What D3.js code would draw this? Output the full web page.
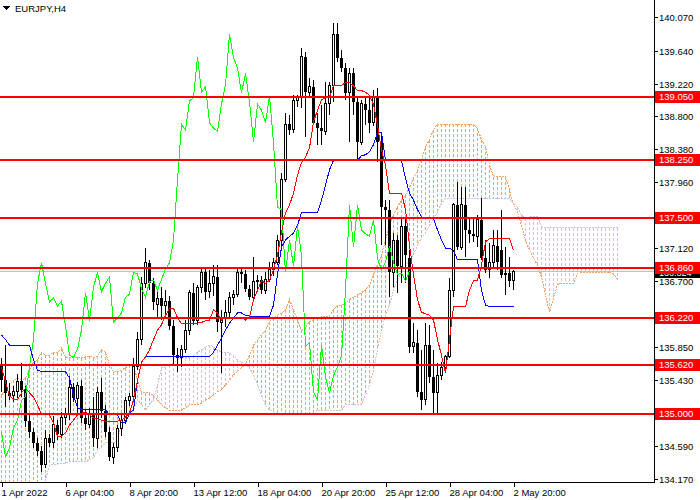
<!DOCTYPE html>
<html><head><meta charset="utf-8">
<script src="https://cdn.jsdelivr.net/npm/d3@7"></script>
<style>html,body{margin:0;padding:0;background:#fff;}svg{display:block;}text{font-family:"Liberation Sans",Arial,sans-serif;}</style>
</head><body><svg id="c" width="700" height="500" shape-rendering="crispEdges"></svg>
<script>
const title = "EURJPY,H4";
const open = [135.63,135.43,135.27,135.23,135.29,135.42,135.31,134.91,134.77,134.63,
134.53,134.35,134.69,134.63,134.86,134.74,134.96,135.01,135.34,135.20,
135.36,134.95,134.87,134.99,134.69,135.28,135.04,134.77,134.45,134.57,
134.82,134.92,135.17,135.22,135.61,135.95,136.67,136.93,136.67,136.40,
136.48,136.38,136.44,136.12,135.75,135.72,135.83,136.07,136.55,136.19,
136.62,136.81,136.56,136.67,136.75,136.17,136.23,136.29,136.49,136.53,
136.81,136.79,136.60,136.49,136.69,136.71,136.58,136.72,136.85,136.93,
137.22,137.99,138.70,138.63,139.00,139.04,139.56,139.11,139.18,138.72,
138.65,138.61,138.96,139.20,139.85,139.55,139.42,139.10,139.35,138.98,
138.47,138.96,138.88,138.72,139.06,138.47,137.64,137.61,136.81,137.22,
136.89,137.40,136.99,135.86,135.91,135.28,135.18,135.88,135.47,135.27,
135.49,135.60,135.74,136.58,137.67,137.13,137.67,137.35,137.30,137.27,
137.48,136.99,136.84,136.94,137.15,137.09,136.78,136.80,136.70];
const high = [135.72,135.88,135.40,135.36,135.51,135.65,135.36,134.99,134.82,134.69,
134.59,134.80,134.74,134.97,134.92,135.03,135.08,135.49,135.40,135.41,
135.43,135.05,135.08,135.22,135.34,135.46,135.12,134.83,134.63,134.86,
134.99,135.22,135.27,135.72,136.05,136.75,137.12,136.97,136.74,136.58,
136.62,136.58,136.51,136.20,135.84,135.88,136.20,136.58,136.67,136.65,
136.86,136.86,136.84,136.90,136.90,136.33,136.46,136.56,136.58,136.88,
136.86,136.84,136.65,137.01,136.78,136.76,136.81,136.94,136.99,137.29,
138.08,138.84,138.82,139.07,139.07,139.67,139.62,139.29,139.27,138.84,
138.95,139.24,139.24,139.99,139.99,139.65,139.48,139.42,139.42,139.04,
139.01,139.04,139.07,139.14,139.16,138.56,137.73,137.73,137.31,137.29,
137.52,137.52,137.09,136.16,136.07,135.82,136.16,136.14,135.82,135.65,
135.66,135.75,136.74,137.69,137.96,137.90,137.90,137.52,137.52,137.54,
137.76,137.22,137.18,137.35,137.35,137.61,137.13,137.01,136.84];
const low = [135.28,135.09,135.18,135.15,135.20,135.22,134.83,134.69,134.57,134.46,
134.26,134.31,134.58,134.57,134.67,134.69,134.86,134.92,135.15,135.00,
134.89,134.80,134.82,134.58,134.57,134.95,134.71,134.40,134.36,134.51,
134.72,134.87,135.10,135.18,135.56,135.88,136.61,136.58,136.33,136.23,
136.20,136.25,136.07,135.64,135.54,135.60,135.78,136.01,136.14,136.14,
136.55,136.46,136.48,136.51,136.05,135.52,136.11,136.24,136.39,136.49,
136.67,136.56,136.46,136.46,136.58,136.53,136.53,136.69,136.76,136.90,
137.12,137.96,138.56,138.59,138.92,138.91,138.54,139.04,138.69,138.44,
138.44,138.56,138.82,138.98,139.50,139.37,139.01,138.47,138.82,138.24,
138.44,138.69,138.59,138.68,138.22,137.16,137.16,136.49,136.62,136.55,
136.67,136.67,135.78,135.78,135.22,135.05,135.12,135.40,135.01,135.01,
135.43,135.52,135.72,136.49,137.09,137.09,137.01,137.18,137.20,137.13,
136.97,136.80,136.74,136.86,136.84,136.74,136.52,136.62,136.58];
const close = [135.43,135.27,135.23,135.29,135.42,135.31,134.91,134.77,134.63,134.53,
134.35,134.69,134.63,134.86,134.74,134.96,135.01,135.34,135.20,135.36,
134.95,134.87,134.99,134.69,135.28,135.04,134.77,134.45,134.57,134.82,
134.92,135.17,135.22,135.61,135.95,136.67,136.93,136.67,136.43,136.48,
136.38,136.44,136.12,135.75,135.72,135.83,136.07,136.55,136.19,136.62,
136.81,136.56,136.67,136.75,136.17,136.23,136.29,136.49,136.53,136.81,
136.79,136.60,136.49,136.69,136.71,136.58,136.72,136.85,136.93,137.22,
137.99,138.70,138.63,139.00,139.04,139.56,139.11,139.18,138.72,138.65,
138.61,138.96,139.20,139.85,139.55,139.42,139.10,139.35,138.98,138.47,
138.96,138.88,138.72,139.06,138.47,137.64,137.61,136.81,137.22,136.89,
137.40,137.03,135.86,135.91,135.28,135.18,135.88,135.47,135.27,135.49,
135.60,135.74,136.58,137.67,137.13,137.67,137.35,137.30,137.27,137.48,
136.99,136.84,136.94,137.15,136.94,136.78,136.80,136.70,136.824];
const tenkan = [135.60,135.41,135.23,135.19,135.18,135.27,135.33,135.27,135.22,135.12,
134.99,134.99,134.99,134.89,134.71,134.71,134.76,134.86,134.92,134.99,
135.01,135.03,134.99,134.95,134.94,134.92,134.91,134.90,134.90,134.91,
134.92,134.96,135.01,135.18,135.43,135.66,135.73,135.82,135.95,136.07,
136.14,136.26,136.35,136.35,136.23,136.15,136.15,136.15,136.16,136.16,
136.17,136.19,136.20,136.33,136.29,136.20,136.23,136.23,136.23,136.23,
136.23,136.20,136.23,136.46,136.58,136.70,136.67,136.71,136.84,137.03,
137.32,137.57,137.67,137.82,138.05,138.21,138.28,138.40,138.73,138.88,
139.01,139.04,139.05,139.19,139.19,139.20,139.23,139.23,139.19,139.13,
139.13,139.11,139.07,138.95,138.69,138.37,138.18,137.82,137.82,137.82,
137.82,137.61,137.16,136.78,136.46,136.30,136.28,136.26,136.20,135.95,
135.75,135.52,135.95,136.37,136.37,136.37,136.37,136.58,136.70,136.71,
136.90,137.20,137.24,137.24,137.24,137.24,137.24,137.24,137.09];
const kijun = [136.01,135.95,135.88,135.88,135.88,135.88,135.88,135.88,135.69,135.56,
135.54,135.54,135.54,135.54,135.54,135.54,135.54,135.46,135.24,135.08,
135.06,135.06,135.06,135.06,135.06,135.06,135.06,134.99,134.99,134.99,
134.89,134.89,135.01,135.05,135.43,135.66,135.73,135.73,135.73,135.73,
135.73,135.73,135.73,135.73,135.73,135.73,135.73,135.73,135.73,135.73,
135.73,135.73,135.73,135.79,135.88,135.97,136.07,136.16,136.23,136.29,
136.29,136.26,136.25,136.25,136.25,136.25,136.25,136.25,136.39,136.78,
137.13,137.22,137.27,137.31,137.41,137.57,137.57,137.57,137.57,137.57,
137.73,137.92,138.12,138.24,138.24,138.24,138.24,138.24,138.24,138.24,
138.30,138.31,138.35,138.44,138.59,138.59,138.24,138.24,138.24,138.24,
138.24,138.01,137.82,137.73,137.61,137.52,137.50,137.50,137.50,137.35,
137.22,137.12,137.12,137.09,136.97,136.97,136.97,136.97,136.97,136.97,
136.58,136.39,136.37,136.37,136.37,136.37,136.37,136.37,136.37];
const spanA = [135.24,135.31,135.37,135.43,135.46,135.43,135.46,135.56,135.66,135.69,
135.79,135.75,135.75,135.79,135.78,135.84,135.73,135.72,135.72,135.73,
135.72,135.73,135.74,135.72,135.74,135.82,135.79,135.63,135.54,135.54,
135.56,135.59,135.63,135.63,135.43,135.28,135.27,135.27,135.24,135.18,
135.12,135.08,135.05,135.05,135.05,135.05,135.08,135.12,135.12,135.12,
135.14,135.18,135.20,135.24,135.28,135.31,135.37,135.43,135.50,135.54,
135.59,135.63,135.75,135.88,135.94,136.01,136.07,136.18,136.23,136.26,
136.29,136.33,136.46,136.33,136.20,136.07,136.11,136.18,136.20,136.23,
136.24,136.24,136.25,136.33,136.39,136.39,136.42,136.46,136.49,136.52,
136.55,136.58,136.65,136.78,136.90,137.03,137.22,137.41,137.54,137.64,
137.73,137.80,137.89,138.01,138.12,138.24,138.41,138.50,138.63,138.70,
138.70,138.70,138.70,138.70,138.70,138.70,138.70,138.70,138.70,138.65,
138.50,138.41,138.18,138.03,138.03,138.03,138.03,137.86,137.67,137.58,
137.41,137.22,137.09,136.99,136.90,136.75,136.52,136.30,136.48,136.65,
136.67,136.67,136.67,136.67,136.80,136.81,136.81,136.81,136.81,136.81,
136.81,136.81,136.81,136.79,136.71];
const spanB = [133.97,133.97,133.97,133.97,133.97,133.97,133.97,133.97,133.97,133.97,
133.97,134.16,134.34,134.36,134.36,134.37,134.37,134.39,134.39,134.39,
134.39,134.39,134.41,134.44,134.54,134.58,134.63,134.63,134.63,134.67,
134.86,134.92,134.99,135.05,135.18,135.12,135.05,135.12,135.18,135.37,
135.59,135.60,135.63,135.65,135.69,135.72,135.72,135.72,135.75,135.79,
135.82,135.86,135.88,135.86,135.82,135.79,135.78,135.78,135.75,135.69,
135.66,135.63,135.59,135.50,135.37,135.24,135.12,135.05,135.03,134.99,
134.99,134.99,134.99,134.99,134.99,134.99,134.99,134.99,134.99,135.05,
135.05,135.05,135.05,135.05,135.05,135.05,135.12,135.12,135.12,135.12,
135.12,135.24,135.37,135.56,135.82,136.07,136.26,136.39,136.58,136.71,
136.81,136.90,136.97,137.03,137.16,137.25,137.31,137.41,137.48,137.58,
137.69,137.75,137.75,137.75,137.75,137.75,137.75,137.75,137.75,137.75,
137.75,137.75,137.75,137.75,137.75,137.75,137.75,137.75,137.69,137.64,
137.54,137.50,137.52,137.52,137.52,137.39,137.38,137.38,137.38,137.38,
137.38,137.38,137.38,137.38,137.38,137.38,137.38,137.38,137.38,137.38,
137.38,137.38,137.38,137.38,137.38];
const chikouShift = 26;
const levels = [139.05,138.25,137.50,136.86,136.22,135.62,135.00];
const yTicks = [140.07,139.64,139.22,138.80,138.38,137.96,137.54,137.12,136.70,136.28,135.85,135.43,135.01,134.59,134.17];
const hiddenTickLabels = [137.54,135.01];
const xTickBars = [0,16,32,48,64,80,96,112,128];
const xTickLabels = ["1 Apr 2022","6 Apr 04:00","8 Apr 20:00","13 Apr 12:00","18 Apr 04:00","20 Apr 20:00","25 Apr 12:00","28 Apr 04:00","2 May 20:00"];
const lastPrice = close[close.length-1];

const plotR = 654, plotB = 482;
const svg = d3.select("#c");
const x = d3.scaleLinear().domain([0,1]).range([1.5,5.5]);
const y = d3.scaleLinear().domain([134.17,140.07]).range([479,17]);

svg.append("defs").append("clipPath").attr("id","pc").append("rect")
  .attr("x",0).attr("y",0).attr("width",plotR).attr("height",plotB);
const g = svg.append("g").attr("clip-path","url(#pc)");

// cloud histogram: dashed vertical strokes between span A and span B at every bar
const dashes = [];
d3.range(spanA.length).forEach(i=>{
  const a = Math.round(y(spanA[i])), b = Math.round(y(spanB[i]));
  const top = Math.min(a,b), bot = Math.min(Math.max(a,b), plotB+5);
  const col = spanA[i] >= spanB[i] ? "#f4a460" : "#d8bfd8";
  for (let yy = top; yy < bot; yy += 5) dashes.push({i, y0: yy, h: Math.min(3, bot-yy), col});
});
g.append("g").selectAll("rect").data(dashes).join("rect")
  .attr("x",d=>x(d.i)-0.5).attr("width",1)
  .attr("y",d=>d.y0).attr("height",d=>d.h)
  .attr("fill",d=>d.col);
const lineGen = arr => d3.line().x((d,i)=>x(i)).y(d=>y(d))(arr);
g.append("path").attr("d",lineGen(spanA)).attr("fill","none").attr("stroke","#f4a460")
  .attr("stroke-dasharray","2,1");
g.append("path").attr("d",lineGen(spanB)).attr("fill","none").attr("stroke","#d8bfd8")
  .attr("stroke-dasharray","2,1");

// bid line
g.append("line").attr("x1",0).attr("x2",plotR).attr("y1",Math.round(y(lastPrice))+0.5).attr("y2",Math.round(y(lastPrice))+0.5)
  .attr("stroke","#c0c0c0").attr("stroke-width",1);

// candles
const bars = d3.range(close.length);
const cg = g.append("g");
cg.selectAll("line").data(bars).join("line")
  .attr("x1",i=>x(i)).attr("x2",i=>x(i))
  .attr("y1",i=>y(high[i])).attr("y2",i=>y(low[i]))
  .attr("stroke","#000");
cg.selectAll("rect.bear").data(bars.filter(i=>close[i]<open[i])).join("rect").attr("class","bear")
  .attr("x",i=>x(i)-1.5).attr("width",3)
  .attr("y",i=>y(open[i])).attr("height",i=>Math.max(1,y(close[i])-y(open[i])))
  .attr("fill","#000");
cg.selectAll("rect.bull").data(bars.filter(i=>close[i]>=open[i])).join("rect").attr("class","bull")
  .attr("x",i=>x(i)-1).attr("width",2)
  .attr("y",i=>y(close[i])).attr("height",i=>Math.max(0.5,y(open[i])-y(close[i])))
  .attr("fill","#fff").attr("stroke","#000").attr("stroke-width",1);

// indicator lines
const chikou = close.slice(chikouShift);
g.append("path").attr("d",lineGen(chikou)).attr("fill","none").attr("stroke","#00ff00").attr("stroke-width",1);
g.append("path").attr("d",lineGen(kijun)).attr("fill","none").attr("stroke","#0000ff").attr("stroke-width",1);
g.append("path").attr("d",lineGen(tenkan)).attr("fill","none").attr("stroke","#ff0000").attr("stroke-width",1);

// horizontal levels
g.selectAll("line.lv").data(levels).join("line").attr("class","lv")
  .attr("x1",0).attr("x2",plotR).attr("y1",d=>Math.round(y(d))).attr("y2",d=>Math.round(y(d)))
  .attr("stroke","#ff0000").attr("stroke-width",2);

// axes
svg.append("line").attr("x1",plotR+0.5).attr("x2",plotR+0.5).attr("y1",0).attr("y2",plotB+1).attr("stroke","#000");
svg.append("line").attr("x1",0).attr("x2",plotR+1).attr("y1",plotB+0.5).attr("y2",plotB+0.5).attr("stroke","#000");
const yt = svg.append("g");
yTicks.forEach(t=>{
  const yy = Math.round(y(t))+0.5;
  yt.append("line").attr("x1",plotR).attr("x2",plotR+4).attr("y1",yy).attr("y2",yy).attr("stroke","#000");
  if (!hiddenTickLabels.includes(t))
    yt.append("text").attr("x",659).attr("y",yy).attr("dy","0.35em").attr("font-size","9.5px").attr("fill","#000").text(d3.format(".3f")(t));
});
const xt = svg.append("g");
xTickBars.forEach((b,k)=>{
  const xx = Math.round(x(b))+0.5;
  xt.append("line").attr("x1",xx).attr("x2",xx).attr("y1",plotB).attr("y2",plotB+5).attr("stroke","#000");
  xt.append("text").attr("x",xx-1).attr("y",496).attr("font-size","9.5px").attr("fill","#000").text(xTickLabels[k]);
});

// last price label (black) then level labels (red)
const lp = svg.append("g");
lp.append("rect").attr("x",655).attr("y",Math.round(y(lastPrice))-4).attr("width",45).attr("height",11).attr("fill","#000");
lp.append("text").attr("x",659).attr("y",Math.round(y(lastPrice))+2).attr("dy","0.35em").attr("font-size","9px").attr("fill","#fff").text(d3.format(".3f")(lastPrice));
const lab = svg.append("g");
levels.forEach(v=>{
  const yy = Math.round(y(v));
  lab.append("rect").attr("x",655).attr("y",yy-6).attr("width",45).attr("height",12).attr("fill","#ff0000");
  lab.append("text").attr("x",659).attr("y",yy).attr("dy","0.35em").attr("font-size","9.5px").attr("fill","#fff").text(d3.format(".3f")(v));
});

// title
svg.append("path").attr("d","M3,6L10,6L6.5,10Z").attr("fill","#000");
svg.append("text").attr("x",15).attr("y",12).attr("font-size","9.5px").attr("fill","#000").text(title);
</script>
</body></html>
